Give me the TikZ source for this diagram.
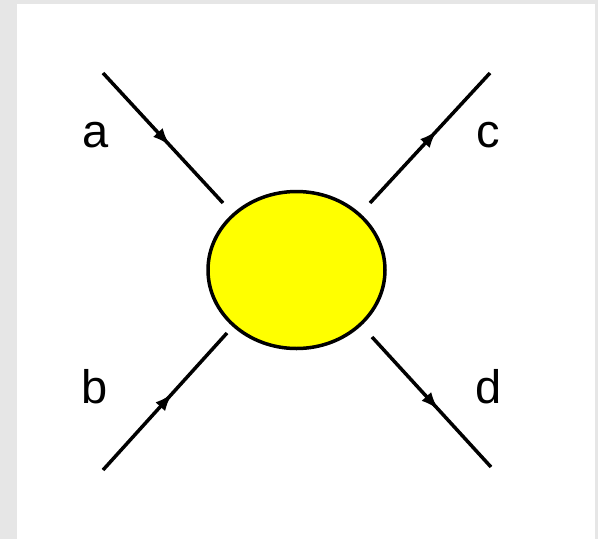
\documentclass[tikz,border=0pt]{standalone}
\usepackage{fontspec}
\setmainfont{Liberation Sans}
\usetikzlibrary{shapes.geometric,arrows.meta,decorations.markings}
\definecolor{bggray}{HTML}{E6E6E6}
\definecolor{blobyellow}{HTML}{FFFF00}
\tikzset{
  leg/.style={line width=3.5pt, black,
    postaction={decorate},
    decoration={markings, mark=at position 0.56 with {\arrow{Latex[length=18pt,width=13pt]}}}},
  lbl/.style={anchor=base, inner sep=0pt, font=\fontsize{47}{56}\selectfont},
  blobstyle/.style={ellipse, draw=black, line width=3.5pt, fill=blobyellow,
    minimum width=177pt, minimum height=157pt, inner sep=0pt}
}
\begin{document}
\begin{tikzpicture}[x=1pt,y=-1pt]
\useasboundingbox (0,0) rectangle (598,539);
\fill[bggray] (0,0) rectangle (598,539);
\fill[white] (17,4) rectangle (595,539);
\node[blobstyle] (blob) at (296.5,270) {};
\coordinate (a1) at (103,73);
\coordinate (a2) at (223,203);
\coordinate (c1) at (370,203);
\coordinate (c2) at (490,73);
\coordinate (b1) at (103,470);
\coordinate (b2) at (227,333);
\coordinate (d1) at (372,337);
\coordinate (d2) at (491,467);
\draw[leg] (a1) -- (a2);
\draw[leg] (c1) -- (c2);
\draw[leg] (b1) -- (b2);
\draw[leg] (d1) -- (d2);
\node[lbl] (la) at (95.5,147) {a};
\node[lbl] (lc) at (488,147) {c};
\node[lbl] (lb) at (95,403) {b};
\node[lbl] (ld) at (489,403) {d};
\end{tikzpicture}
\end{document}
